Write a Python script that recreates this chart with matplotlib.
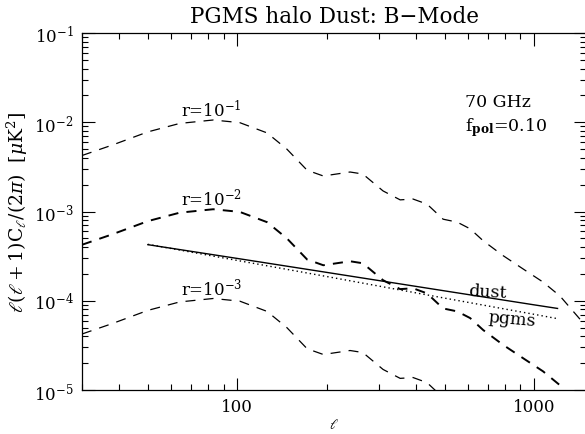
import numpy as np
import matplotlib
matplotlib.use("Agg")
import matplotlib.pyplot as plt
from matplotlib.ticker import LogLocator, NullFormatter, FixedLocator, FixedFormatter

# Tensor B-mode spectra (multipole, D_ell in uK^2)
ell_r = [30, 38, 50, 64, 83, 102, 126, 147, 172, 195, 240, 265, 310, 354, 391,
         436, 494, 551, 609, 674, 787, 919, 1072, 1223, 1429, 1600]
bb_r1 = [4.24e-3, 5.56e-3, 7.8e-3, 9.7e-3, 1.06e-2, 9.9e-3, 7.6e-3, 5.0e-3, 2.9e-3,
         2.5e-3, 2.77e-3, 2.63e-3, 1.7e-3, 1.35e-3, 1.38e-3, 1.21e-3, 8.2e-4,
         7.6e-4, 6.4e-4, 4.7e-4, 3.2e-4, 2.27e-4, 1.62e-4, 1.13e-4, 6.2e-5, 4.0e-5]
bb_r2 = [4.24e-4, 5.56e-4, 7.8e-4, 9.7e-4, 1.06e-3, 9.9e-4, 7.6e-4, 5.0e-4, 2.9e-4,
         2.5e-4, 2.77e-4, 2.63e-4, 1.7e-4, 1.35e-4, 1.38e-4, 1.21e-4, 8.2e-5,
         7.6e-5, 6.4e-5, 4.7e-5, 3.2e-5, 2.27e-5, 1.62e-5, 1.13e-5, 6.2e-6, 4.0e-6]
bb_r3 = [4.24e-5, 5.56e-5, 7.8e-5, 9.7e-5, 1.06e-4, 9.9e-5, 7.6e-5, 5.0e-5, 2.9e-5,
         2.5e-5, 2.77e-5, 2.63e-5, 1.7e-5, 1.35e-5, 1.38e-5, 1.21e-5, 8.2e-6,
         7.6e-6, 6.4e-6, 4.7e-6, 3.2e-6, 2.27e-6, 1.62e-6, 1.13e-6, 6.2e-7, 4.0e-7]

# foreground power laws
ell_fg = [50, 100, 200, 500, 1000, 1200]
dust = [4.25e-4, 2.98e-4, 2.08e-4, 1.29e-4, 9.0e-5, 8.2e-5]
pgms = [4.29e-4, 2.83e-4, 1.87e-4, 1.07e-4, 7.05e-5, 6.3e-5]

r_labels = [r"r=10$^{-1}$", r"r=10$^{-2}$", r"r=10$^{-3}$"]
r_label_y = [1.18e-2, 1.21e-3, 1.19e-4]

plt.rcParams['font.family'] = ['DejaVu Serif', 'DejaVu Sans']
plt.rcParams['mathtext.fontset'] = 'dejavuserif'

fig = plt.figure(figsize=(5.85, 4.35), dpi=100)
ax = fig.add_axes([82 / 585, 1 - 391 / 435, (586.3 - 82) / 585, (391 - 34) / 435])

ax.plot(ell_r, bb_r1, color='black', lw=0.9, linestyle=(0, (8, 6.5)))
ax.plot(ell_r, bb_r2, color='black', lw=1.4, linestyle=(0, (5.2, 4.2)))
ax.plot(ell_r, bb_r3, color='black', lw=0.9, linestyle=(0, (8, 6.5)))
ax.plot(ell_fg, dust, color='black', lw=1.0)
ax.plot(ell_fg, pgms, color='black', lw=1.0, linestyle=(0, (1, 2.2)))

ax.set_xscale('log')
ax.set_yscale('log')
ax.set_xlim(30, 1500)
ax.set_ylim(1e-5, 1e-1)

# IDL-like ticks: inside, all four sides
ax.xaxis.set_major_locator(FixedLocator([100, 1000]))
ax.xaxis.set_major_formatter(FixedFormatter(['100', '1000']))
ax.xaxis.set_minor_locator(LogLocator(base=10, subs=np.arange(2, 10)))
ax.xaxis.set_minor_formatter(NullFormatter())
ax.yaxis.set_major_locator(LogLocator(base=10, numticks=10))
ax.yaxis.set_minor_locator(LogLocator(base=10, subs=np.arange(2, 10), numticks=10))
ax.yaxis.set_minor_formatter(NullFormatter())
ax.tick_params(which='both', direction='in', top=True, right=True, labelsize=12, width=0.8)
ax.tick_params(which='major', length=9, pad=6)
ax.tick_params(which='minor', length=4.5)
for s in ax.spines.values():
    s.set_linewidth(0.9)

ax.set_title('PGMS halo Dust: B\u2212Mode', fontsize=15.5, pad=8)
ax.set_ylabel(r'$\ell(\ell+1)\mathrm{C}_\ell/(2\pi)$  [$\mu$K$^2$]', fontsize=13.5, labelpad=3)
ax.set_xlabel(r'$\ell$', fontsize=10, labelpad=1)

for lab, yv in zip(r_labels, r_label_y):
    ax.text(82, yv, lab, ha='center', va='baseline', fontsize=12)

ax.text(586, 1.52e-2, '70 GHz', ha='left', va='baseline', fontsize=12.5)
ax.text(586, 8.2e-3, r'f$_{\mathbf{pol}}$=0.10', ha='left', va='baseline', fontsize=12.5)
ax.text(600, 1.16e-4, 'dust', ha='left', va='baseline', fontsize=12.5,
        rotation=-3, rotation_mode='anchor')
ax.text(700, 5.9e-5, 'pgms', ha='left', va='baseline', fontsize=12.5,
        rotation=-5, rotation_mode='anchor')

fig.savefig('out.png', dpi=100)
